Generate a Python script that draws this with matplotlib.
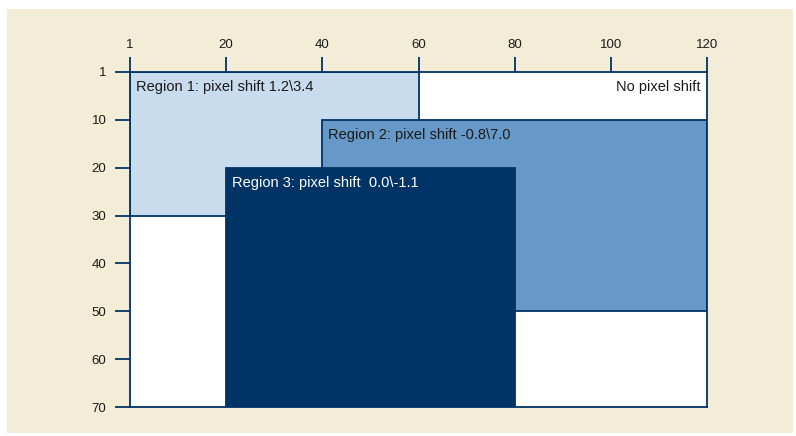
import matplotlib.pyplot as plt
from matplotlib.patches import Rectangle

plt.rcParams['font.family'] = ['Liberation Sans', 'DejaVu Sans']

# regions: (label, x0, x1, y0, y1, fill, text colour)
labels = ['Region 1: pixel shift 1.2\\3.4', 'Region 2: pixel shift -0.8\\7.0',
          'Region 3: pixel shift  0.0\\-1.1']
x_start = [0, 40, 20]
x_end = [60, 120, 80]
y_start = [0, 10, 20]
y_end = [30, 50, 70]
fills = ['#c9dcee', '#6699c7', '#003366']
text_colors = ['#1a1a1a', '#1a1a1a', '#ffffff']

x_ticks = [0, 20, 40, 60, 80, 100, 120]
x_tick_labels = ['1', '20', '40', '60', '80', '100', '120']
y_ticks = [0, 10, 20, 30, 40, 50, 60, 70]
y_tick_labels = ['1', '10', '20', '30', '40', '50', '60', '70']

navy = '#003366'

fig = plt.figure(figsize=(7.96, 4.36), dpi=100)
fig.patch.set_facecolor('white')
bg = Rectangle((7 / 796, 3 / 436), 786 / 796, 424 / 436, transform=fig.transFigure,
               facecolor='#f3ecd7', edgecolor='none', zorder=-10)
fig.patches.append(bg)

ax = fig.add_axes([130 / 796, 1 - 407 / 436, 577 / 796, 335 / 436])
ax.set_facecolor('white')
ax.set_xlim(0, 120)
ax.set_ylim(70, 0)

for i in range(len(labels)):
    ax.add_patch(Rectangle((x_start[i], y_start[i]), x_end[i] - x_start[i], y_end[i] - y_start[i],
                           facecolor=fills[i], edgecolor=navy, linewidth=1.3, zorder=2 + i))
    ax.text(x_start[i] + 1.2, y_start[i] + 3.2, labels[i], color=text_colors[i], fontsize=10.5,
            va='center', ha='left', zorder=10)

ax.text(118.6, 3.2, 'No pixel shift', color='#1a1a1a', fontsize=10.5, va='center', ha='right', zorder=10)

ax.xaxis.tick_top()
ax.set_xticks(x_ticks)
ax.set_xticklabels(x_tick_labels)
ax.set_yticks(y_ticks)
ax.set_yticklabels(y_tick_labels)
ax.tick_params(axis='both', length=11, width=1.3, color=navy, labelsize=9.5, labelcolor='#1a1a1a', pad=4)
ax.tick_params(axis='y', pad=6)

for s in ax.spines.values():
    s.set_color(navy)
    s.set_linewidth(1.3)
    s.set_zorder(20)

fig.savefig('out.png', dpi=100, facecolor=fig.get_facecolor())
